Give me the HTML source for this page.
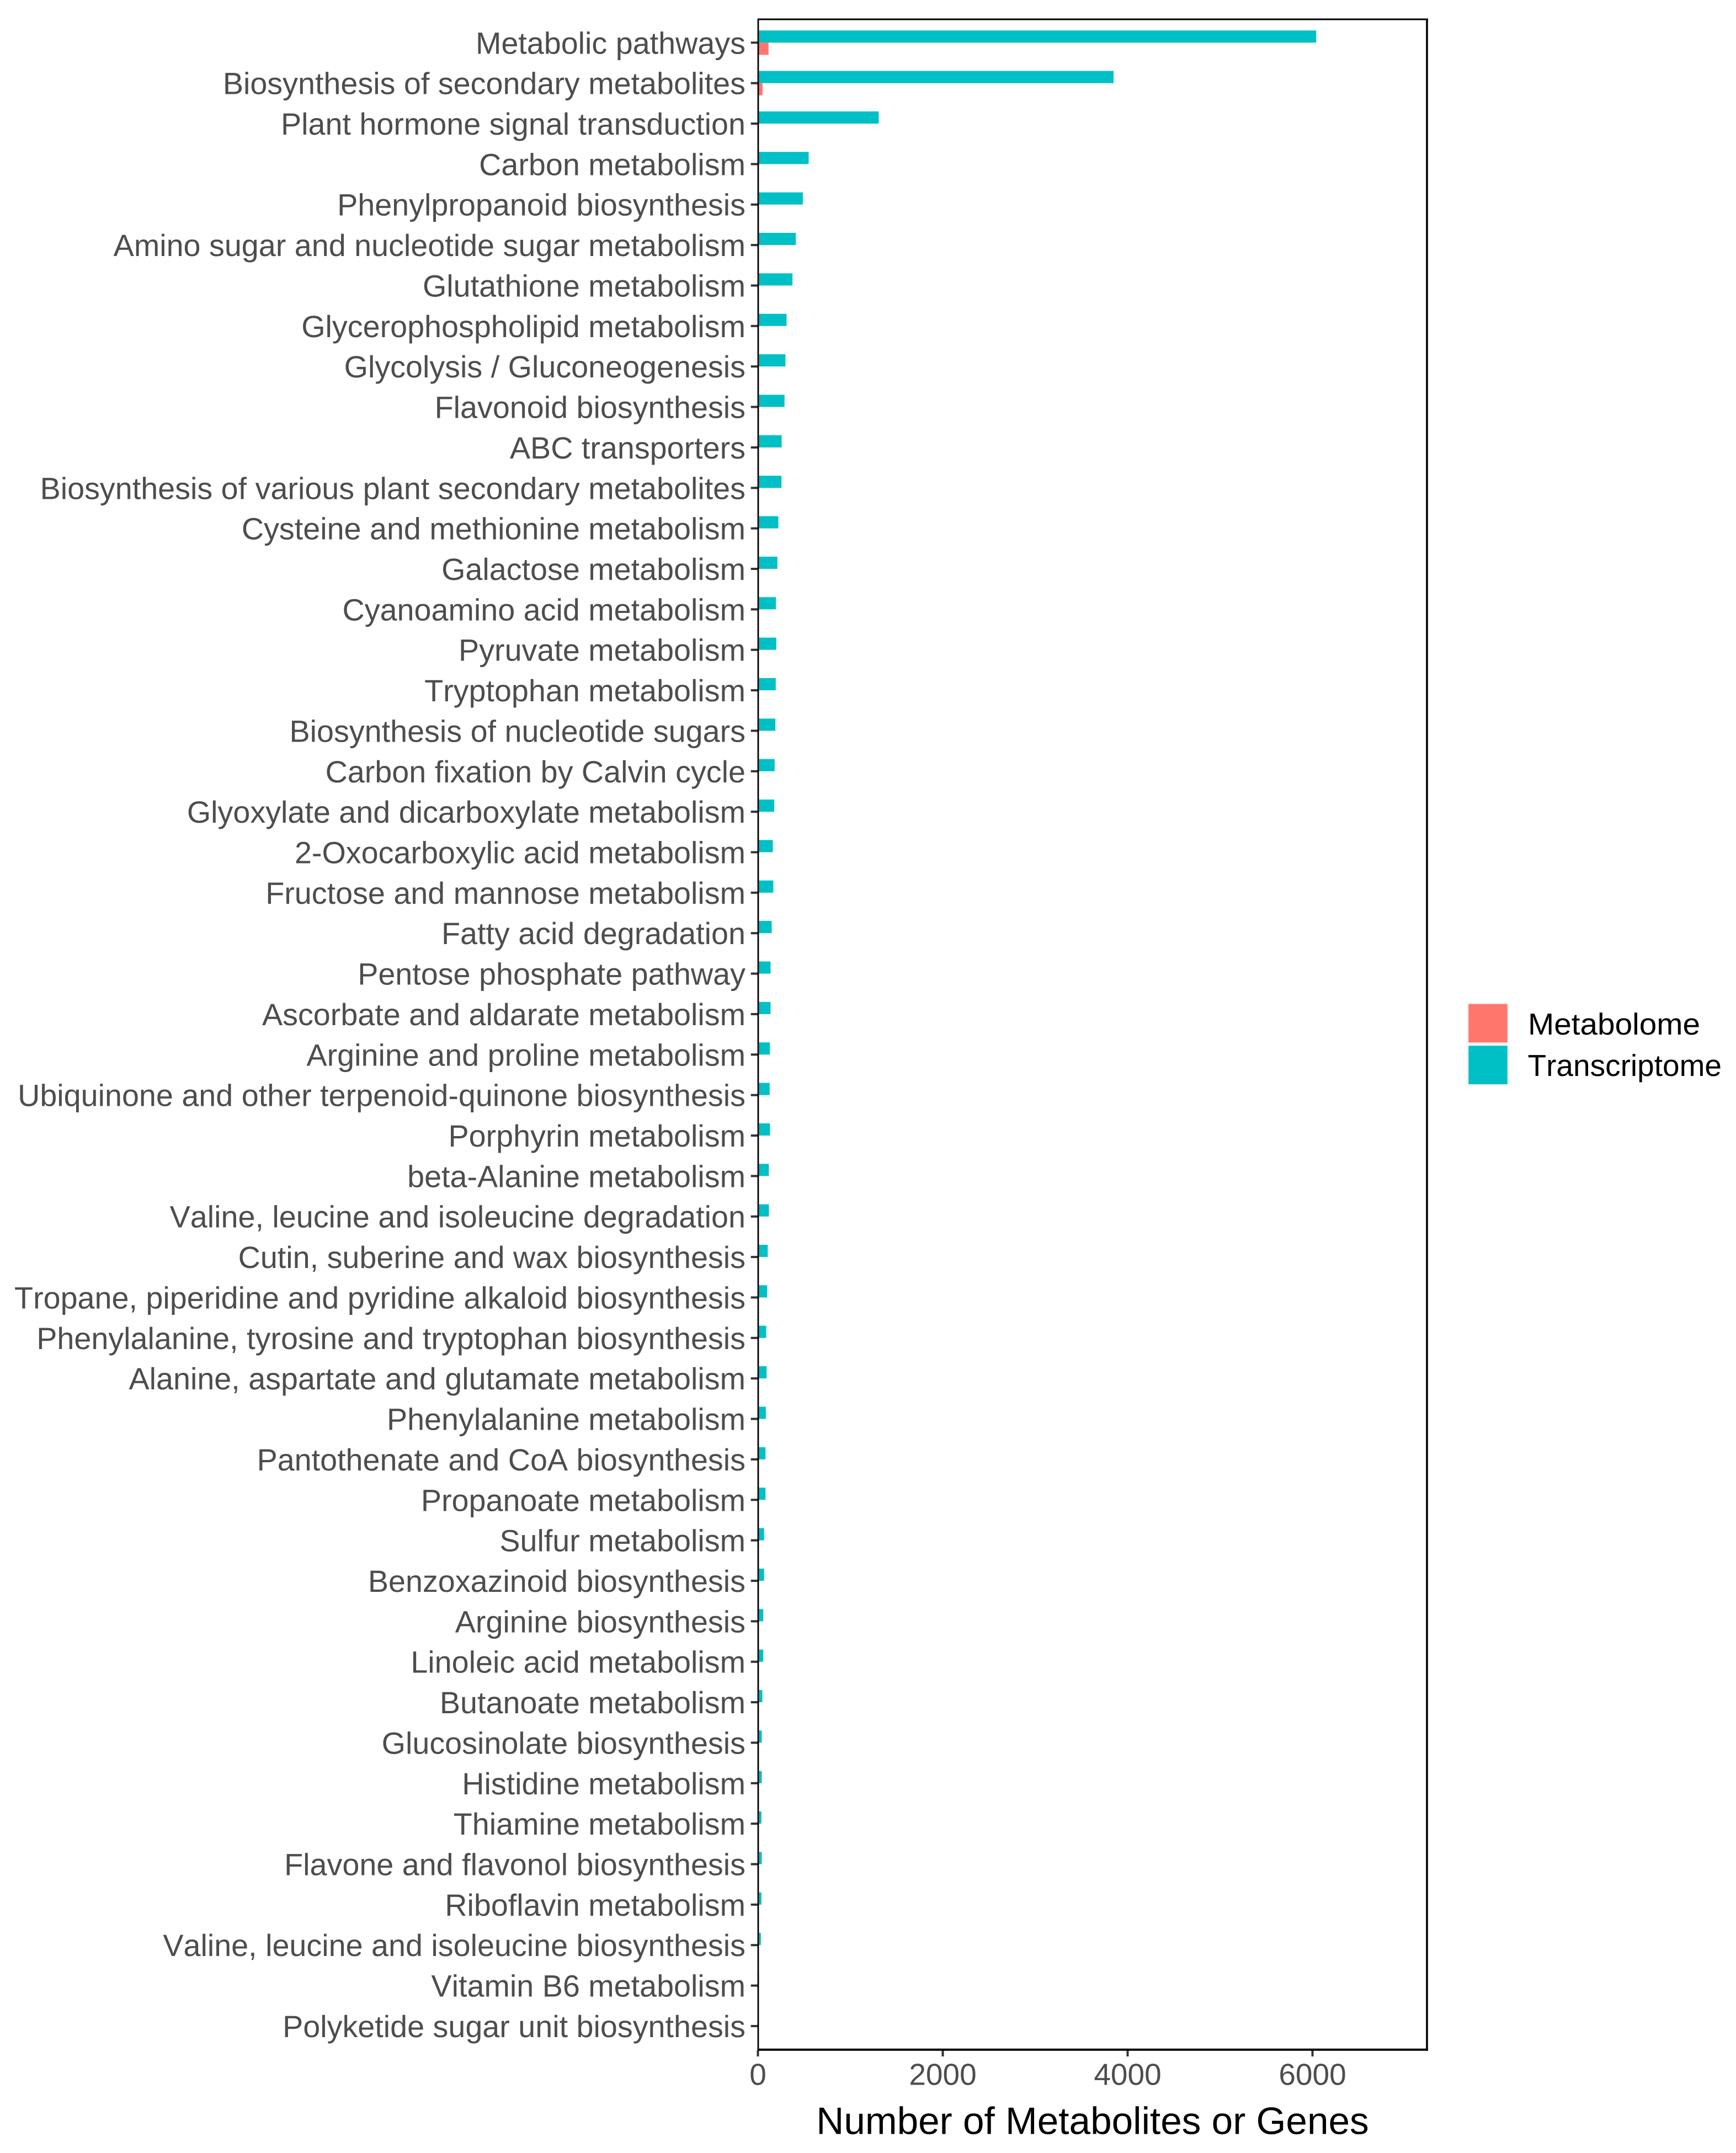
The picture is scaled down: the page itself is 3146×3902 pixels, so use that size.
<!DOCTYPE html>
<html lang="en">
<head>
<meta charset="utf-8">
<title>Metabolites and genes per pathway</title>
<style>
html,body{margin:0;padding:0;background:#fff;}
#chart{display:block;width:3146px;height:3902px;font-family:"Liberation Sans",Arial,sans-serif;font-kerning:none;text-rendering:geometricPrecision;}
</style>
</head>
<body>
<svg id="chart" xmlns="http://www.w3.org/2000/svg" width="3146" height="3902" viewBox="0 0 3146 3902">
  <rect x="0" y="0" width="3146" height="3902" fill="#ffffff"/>
  <g id="bars"></g>
  <g id="y-axis"></g>
  <g id="x-axis"></g>
  <g stroke="#000" fill="none">
    <line x1="1372.5" x2="2588" y1="35" y2="35" stroke-width="3"/>
    <line x1="2586" x2="2586" y1="33.5" y2="3716.7" stroke-width="3.6"/>
    <line x1="1372.5" x2="2588" y1="3714.7" y2="3714.7" stroke-width="4"/>
    <line x1="1374" x2="1374" y1="33.5" y2="3716.7" stroke-width="2.8"/>
  </g>
  <text x="1980" y="3867.7" font-size="69.3" text-anchor="middle" fill="#000">Number of Metabolites or Genes</text>
  <g>
    <rect x="2658" y="1816.7" width="76.5" height="151.3" fill="#F2F2F2"/>
    <rect x="2661.3" y="1819.7" width="70.4" height="69.6" fill="#FF766D"/>
    <rect x="2661.3" y="1895.3" width="70.4" height="69.7" fill="#00C0C6"/>
    <text x="2769" y="1875" font-size="55" textLength="312" lengthAdjust="spacingAndGlyphs" fill="#000">Metabolome</text>
    <text x="2768.5" y="1950" font-size="55" fill="#000">Transcriptome</text>
  </g>
</svg>
<script>
const categories = [
  "Metabolic pathways",
  "Biosynthesis of secondary metabolites",
  "Plant hormone signal transduction",
  "Carbon metabolism",
  "Phenylpropanoid biosynthesis",
  "Amino sugar and nucleotide sugar metabolism",
  "Glutathione metabolism",
  "Glycerophospholipid metabolism",
  "Glycolysis / Gluconeogenesis",
  "Flavonoid biosynthesis",
  "ABC transporters",
  "Biosynthesis of various plant secondary metabolites",
  "Cysteine and methionine metabolism",
  "Galactose metabolism",
  "Cyanoamino acid metabolism",
  "Pyruvate metabolism",
  "Tryptophan metabolism",
  "Biosynthesis of nucleotide sugars",
  "Carbon fixation by Calvin cycle",
  "Glyoxylate and dicarboxylate metabolism",
  "2-Oxocarboxylic acid metabolism",
  "Fructose and mannose metabolism",
  "Fatty acid degradation",
  "Pentose phosphate pathway",
  "Ascorbate and aldarate metabolism",
  "Arginine and proline metabolism",
  "Ubiquinone and other terpenoid-quinone biosynthesis",
  "Porphyrin metabolism",
  "beta-Alanine metabolism",
  "Valine, leucine and isoleucine degradation",
  "Cutin, suberine and wax biosynthesis",
  "Tropane, piperidine and pyridine alkaloid biosynthesis",
  "Phenylalanine, tyrosine and tryptophan biosynthesis",
  "Alanine, aspartate and glutamate metabolism",
  "Phenylalanine metabolism",
  "Pantothenate and CoA biosynthesis",
  "Propanoate metabolism",
  "Sulfur metabolism",
  "Benzoxazinoid biosynthesis",
  "Arginine biosynthesis",
  "Linoleic acid metabolism",
  "Butanoate metabolism",
  "Glucosinolate biosynthesis",
  "Histidine metabolism",
  "Thiamine metabolism",
  "Flavone and flavonol biosynthesis",
  "Riboflavin metabolism",
  "Valine, leucine and isoleucine biosynthesis",
  "Vitamin B6 metabolism",
  "Polyketide sugar unit biosynthesis"
];
const transcriptomeValues = [
  6040, 3848, 1307, 549, 486, 410, 374, 310, 298, 288,
  257, 255, 221, 211, 195, 199, 193, 189, 181, 177,
  161, 167, 149, 137, 137, 130, 127, 131, 118, 119,
  106, 100, 90, 94, 86, 82, 82, 67, 67, 58,
  58, 48, 42, 42, 38, 42, 38, 32, 12, 4
];
const metabolomeValues = [
  115, 50, 0, 0, 0, 0, 0, 0, 0, 0,
  6, 0, 0, 0, 0, 0, 0, 0, 0, 0,
  0, 0, 0, 0, 0, 0, 0, 0, 0, 0,
  0, 0, 0, 0, 0, 0, 0, 0, 0, 0,
  0, 0, 0, 0, 0, 0, 0, 0, 0, 0
];
const xTickValues = [0, 2000, 4000, 6000];

const SVG_NS = "http://www.w3.org/2000/svg";
const plotLeft = 1373.5;
const pxPerUnit = 0.1675;
const firstRowY = 77.3;
const rowStep = 73.36;
const barThickness = 22.1;
const tickColor = "#333333";
const labelColor = "#4D4D4D";

function xScale(value) { return plotLeft + value * pxPerUnit; }
function yScale(index) { return firstRowY + index * rowStep; }
function make(tag, attrs) {
  const node = document.createElementNS(SVG_NS, tag);
  Object.keys(attrs).forEach(function (k) { node.setAttribute(k, attrs[k]); });
  return node;
}

const barsGroup = document.getElementById("bars");
const yAxisGroup = document.getElementById("y-axis");
const xAxisGroup = document.getElementById("x-axis");

categories.forEach(function (name, i) {
  const y = yScale(i);

  const tBar = make("rect", {
    x: xScale(0), y: y - barThickness,
    width: Math.max(0, xScale(transcriptomeValues[i]) - xScale(0)), height: barThickness,
    fill: "#00C0C6"
  });
  
  
  barsGroup.appendChild(tBar);

  if (metabolomeValues[i] > 0) {
    const mBar = make("rect", {
      x: xScale(0), y: y,
      width: xScale(metabolomeValues[i]) - xScale(0), height: barThickness,
      fill: "#FF766D"
    });
    
    
    barsGroup.appendChild(mBar);
  }

  const tick = make("line", {
    x1: 1360.7, x2: 1374, y1: y, y2: y,
    stroke: tickColor, "stroke-width": 4
  });
  
  
  yAxisGroup.appendChild(tick);

  const label = make("text", {
    x: 1351, y: y + 20, "text-anchor": "end",
    "font-size": 55.7, fill: labelColor
  });
  
  
  label.textContent = name;
  yAxisGroup.appendChild(label);
});

xTickValues.forEach(function (value) {
  const x = xScale(value);

  const tick = make("line", {
    x1: x, x2: x, y1: 3716, y2: 3727,
    stroke: tickColor, "stroke-width": 4
  });
  
  
  xAxisGroup.appendChild(tick);

  const label = make("text", {
    x: x, y: 3778.7, "text-anchor": "middle",
    "font-size": 55, fill: labelColor
  });
  
  
  label.textContent = String(value);
  xAxisGroup.appendChild(label);
});
</script>
</body>
</html>
